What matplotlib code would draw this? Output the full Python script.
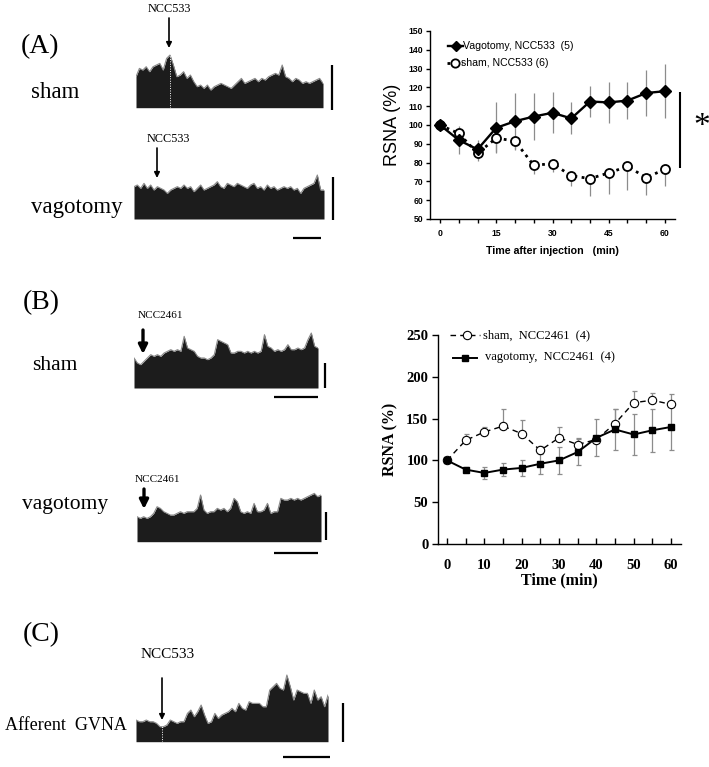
import numpy as np
import matplotlib
matplotlib.use("Agg")
import matplotlib.pyplot as plt
from matplotlib.lines import Line2D

# ---------------- data ----------------
time_min = [0, 5, 10, 15, 20, 25, 30, 35, 40, 45, 50, 55, 60]

# Panel A (NCC533)
a_vag_mean = [100, 92, 87, 98.5, 102, 104.5, 106.5, 103.5, 112.5, 112, 113, 117, 118]
a_vag_err = [0, 7.5, 5, 13.5, 15, 12.5, 11, 8.5, 8, 11, 10, 12, 14.5]
a_sham_mean = [100, 95.5, 85, 93, 91.5, 78.5, 79.5, 73, 71.5, 74.5, 78, 72, 76.5]
a_sham_err = [0, 4.5, 4, 7.5, 5, 4.5, 4.5, 5.5, 9, 11, 12.5, 9, 9]

# Panel B (NCC2461)
b_sham_mean = [100, 124, 134, 141, 132, 112, 127, 119, 125, 144, 169, 172, 167]
b_sham_err = [0, 8, 6, 20, 16, 5, 13, 8, 0, 17, 14, 9, 13]
b_vag_mean = [100, 89, 85, 89, 91, 96, 100, 110, 127, 137, 131, 136, 140]
b_vag_err = [0, 3, 7, 8, 10, 12, 16, 16, 22, 25, 24, 26, 27]

# Nerve-activity trace envelopes (amplitude, arbitrary units)
trace_a_sham = [93, 118, 113, 123, 108, 123, 128, 133, 113, 148, 158, 128, 93, 98, 108, 88,
                98, 78, 63, 68, 58, 68, 53, 63, 68, 73, 68, 63, 58, 68, 78, 88, 73, 78, 83,
                88, 78, 88, 83, 93, 98, 103, 98, 128, 93, 88, 78, 88, 83, 73, 78, 73, 78,
                83, 88, 73]
trace_a_vag = [97, 102, 92, 107, 92, 102, 87, 97, 92, 87, 77, 87, 92, 97, 92, 102, 92, 97,
               82, 92, 102, 87, 92, 97, 102, 112, 97, 92, 107, 102, 97, 107, 102, 97, 92,
               102, 107, 92, 97, 87, 102, 92, 97, 87, 92, 97, 92, 97, 87, 92, 77, 92, 97,
               102, 107, 132, 87, 87]
trace_b_sham = [90, 75, 70, 80, 90, 100, 95, 100, 95, 105, 110, 115, 110, 115, 110, 155,
                120, 115, 110, 95, 90, 90, 85, 90, 100, 145, 140, 135, 130, 105, 105, 110,
                110, 105, 110, 105, 110, 105, 110, 160, 125, 120, 110, 115, 110, 115, 130,
                115, 115, 120, 115, 120, 145, 165, 125, 120]
trace_b_vag = [75, 70, 75, 70, 75, 85, 105, 100, 90, 85, 80, 80, 85, 90, 85, 90, 90, 90,
               100, 140, 95, 85, 90, 90, 100, 95, 100, 90, 100, 130, 120, 90, 85, 90, 85,
               115, 90, 90, 95, 115, 85, 90, 90, 130, 125, 125, 130, 125, 130, 125, 130,
               135, 140, 145, 135, 140]
trace_c = [65, 60, 60, 65, 60, 60, 55, 45, 45, 50, 65, 60, 55, 60, 60, 85, 95, 75, 90,
           110, 80, 55, 60, 85, 70, 80, 85, 90, 100, 90, 115, 100, 95, 120, 115, 115, 115,
           105, 105, 155, 165, 175, 160, 155, 200, 165, 125, 155, 150, 145, 145, 115, 155,
           125, 135, 105, 140]

# ---------------- figure ----------------
W, H = 709, 767
fig = plt.figure(figsize=(W / 100, H / 100), dpi=100)
fig.patch.set_facecolor("white")

SERIF = ["Liberation Serif", "DejaVu Serif"]
SANS = ["Liberation Sans", "DejaVu Sans"]


def px_axes(x0, x1, ytop, ybot, **kw):
    return fig.add_axes([x0 / W, 1 - ybot / H, (x1 - x0) / W, (ybot - ytop) / H], **kw)


def trace(x0, x1, base, height, env, top_units, dotted_at=None):
    ax = px_axes(x0, x1, base - height, base)
    n = len(env)
    idx = np.arange(n)
    ax.fill_between(idx, 0, env, color="#1c1c1c", lw=0)
    ax.plot(idx, env, color="#8a8a8a", lw=0.8)
    ax.set_xlim(0, n - 1)
    ax.set_ylim(0, top_units)
    ax.axis("off")
    if dotted_at is not None:
        ax.axvline(dotted_at, ymin=0, ymax=0.9, color="white", lw=0.7, ls=(0, (1, 1.5)))
    return ax


# traces
trace(136, 323, 107.7, 60, trace_a_sham, 180, dotted_at=10)
trace(134, 324, 219, 50, trace_a_vag, 150)
trace(134, 318, 388, 60, trace_b_sham, 180)
trace(137, 321, 541.7, 55, trace_b_vag, 165)
trace(136, 328, 741.7, 72, trace_c, 216, dotted_at=7.5)

# ---------------- Panel A line chart ----------------
axA = px_axes(430, 675, 31, 219)
axA.errorbar(time_min, a_sham_mean, yerr=[a_sham_err, [0] * 13], fmt="none",
             ecolor="#8c8c8c", elinewidth=0.9, capsize=0, zorder=1)
axA.errorbar(time_min, a_vag_mean, yerr=a_vag_err, fmt="none",
             ecolor="#8c8c8c", elinewidth=0.9, capsize=0, zorder=1)
axA.plot(time_min, a_sham_mean, ls=(0, (1, 1.6)), lw=2.0, color="black",
         marker="o", ms=6.5, mfc="white", mec="black", mew=1.3, zorder=3)
axA.plot(time_min, a_vag_mean, ls="-", lw=1.7, color="black",
         marker="D", ms=6, mfc="black", mec="black", zorder=4)
axA.set_xlim(-2.67, 62.67)
axA.set_ylim(50, 150)
axA.set_xticks(range(0, 61, 5))
axA.set_xticklabels([str(t) if t % 15 == 0 else "" for t in range(0, 61, 5)])
axA.set_yticks(range(50, 151, 10))
for s in ["top", "right"]:
    axA.spines[s].set_visible(False)
for s in ["left", "bottom"]:
    axA.spines[s].set_linewidth(1.0)
axA.tick_params(direction="out", length=3, width=1.0, pad=2)
axA.tick_params(axis="x", pad=4)
for lab in axA.get_xticklabels() + axA.get_yticklabels():
    lab.set_family(SANS)
    lab.set_fontweight("bold")
    lab.set_fontsize(6.2)
axA.set_xlabel("Time after injection   (min)", family=SANS, fontweight="bold",
               fontsize=7.7, labelpad=6)
axA.set_ylabel("RSNA (%)", family=SANS, fontsize=13, labelpad=5)

# ---------------- Panel B line chart ----------------
axB = px_axes(438, 681, 335, 544)
axB.errorbar(time_min, b_vag_mean, yerr=b_vag_err, fmt="none",
             ecolor="#8c8c8c", elinewidth=0.9, capsize=1.8, capthick=0.9, zorder=1)
axB.errorbar(time_min, b_sham_mean, yerr=[[0] * 13, b_sham_err], fmt="none",
             ecolor="#8c8c8c", elinewidth=0.9, capsize=1.8, capthick=0.9, zorder=1)
axB.plot(time_min, b_sham_mean, ls=(0, (4, 3)), lw=1.0, color="black",
         marker="o", ms=6, mfc="white", mec="black", mew=0.8, zorder=3)
axB.plot(time_min, b_vag_mean, ls="-", lw=1.4, color="black",
         marker="s", ms=5, mfc="black", mec="black", zorder=4)
axB.set_xlim(-2.41, 62.68)
axB.set_ylim(0, 250)
axB.set_xticks(range(0, 61, 10))
axB.set_xticks(range(5, 61, 10), minor=True)
axB.set_yticks(range(0, 251, 50))
for s in ["top", "right"]:
    axB.spines[s].set_visible(False)
for s in ["left", "bottom"]:
    axB.spines[s].set_linewidth(1.0)
axB.tick_params(axis="x", which="both", direction="in", length=4, width=1.0, pad=11)
axB.tick_params(axis="y", direction="out", length=4, width=1.0, pad=3)
for lab in axB.get_xticklabels() + axB.get_yticklabels():
    lab.set_family(SERIF)
    lab.set_fontweight("bold")
    lab.set_fontsize(10.5)
axB.set_xlabel("Time (min)", family=SERIF, fontweight="bold", fontsize=11.5, labelpad=0)
axB.set_ylabel("RSNA (%)", family=SERIF, fontweight="bold", fontsize=11.5, labelpad=6)

# ---------------- overlay (labels, arrows, scale bars, legends) ----------------
ov = fig.add_axes([0, 0, 1, 1], zorder=10)
ov.set_xlim(0, W)
ov.set_ylim(H, 0)
ov.axis("off")
ov.patch.set_alpha(0)

def txt(x, y, s, size, ha="left", **kw):
    ov.text(x, y, s, fontsize=size, ha=ha, va="center", family=kw.pop("family", SERIF), **kw)

txt(40, 47, "(A)", 20, ha="center")
txt(31, 93, "sham", 16.5)
txt(31, 207, "vagotomy", 16.5)
txt(169, 9, "NCC533", 8.8, ha="center")
txt(168, 139, "NCC533", 8.8, ha="center")

txt(41, 303, "(B)", 20, ha="center")
txt(32, 366, "sham", 15.5)
txt(22, 505, "vagotomy", 15.5)
txt(160, 316, "NCC2461", 8, ha="center")
txt(157, 479, "NCC2461", 8, ha="center")

txt(41, 635, "(C)", 20, ha="center")
txt(168, 655, "NCC533", 11, ha="center")
txt(5, 725, "Afferent  GVNA", 13)

def arrow(x, y0, y1, lw, ms):
    ov.annotate("", xy=(x, y1), xytext=(x, y0),
                arrowprops=dict(arrowstyle="-|>", lw=lw, color="black",
                                mutation_scale=ms, shrinkA=0, shrinkB=0))

arrow(169, 18, 48, 1.2, 8)
arrow(157, 148, 178, 1.2, 8)
arrow(143, 330, 354, 2.4, 13)
arrow(144, 489, 509, 2.4, 13)
arrow(162, 678, 720, 1.2, 8)

def seg(x0, y0, x1, y1, lw=1.6):
    ov.plot([x0, x1], [y0, y1], color="black", lw=lw, solid_capstyle="butt")

seg(332, 65, 332, 110)
seg(333, 177, 333, 220)
seg(293, 238, 321, 238)
seg(325, 363, 325, 388)
seg(274, 397, 318, 397)
seg(326, 512, 326, 540)
seg(274, 553, 318, 553)
seg(343, 703, 343, 742)
seg(283, 757, 330, 757)

# significance bar + asterisk on Panel A
seg(680, 92, 680, 168, lw=1.5)
ov.text(702, 127, "*", fontsize=24, ha="center", va="center", family=SERIF)

# legend A
ov.add_line(Line2D([448, 463], [46, 46], color="black", lw=1.7))
ov.add_line(Line2D([456], [46], marker="D", ms=5.5, color="black"))
txt(463, 46, "Vagotomy, NCC533  (5)", 7.6, family=SANS)
ov.add_line(Line2D([447, 462], [63, 63], color="black", lw=2.0, ls=(0, (1, 1.6))))
ov.add_line(Line2D([455], [63], marker="o", ms=6, mfc="white", mec="black", mew=1.3))
txt(461, 63, "sham, NCC533 (6)", 7.6, family=SANS)

# legend B
ov.add_line(Line2D([450, 480], [335, 335], color="black", lw=1.0, ls=(0, (4, 3))))
ov.add_line(Line2D([467], [335], marker="o", ms=6, mfc="white", mec="black", mew=0.8))
txt(483, 335, "sham,  NCC2461  (4)", 9)
ov.add_line(Line2D([453, 477], [358, 358], color="black", lw=1.4))
ov.add_line(Line2D([465], [358], marker="s", ms=5, color="black"))
txt(485, 357, "vagotomy,  NCC2461  (4)", 9)

fig.savefig("out.png", dpi=100, facecolor="white")
